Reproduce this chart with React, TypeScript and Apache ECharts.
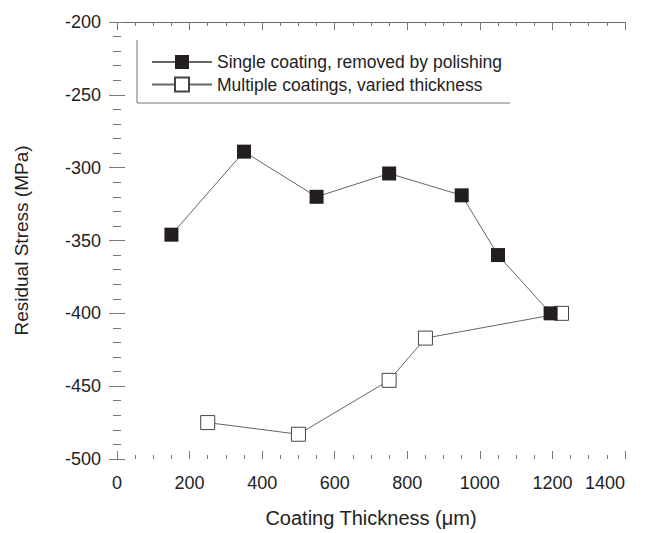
import React, { useEffect, useRef } from "react";
import * as echarts from "echarts";

// Coating thickness (µm) and residual stress (MPa)
const singleX = [150, 350, 550, 750, 950, 1050, 1195];
const singleY = [-346, -289, -320, -304, -319, -360, -400];
const multiX = [250, 500, 750, 850, 1225];
const multiY = [-475, -483, -446, -417, -400];

const seriesNames = [
  "Single coating, removed by polishing",
  "Multiple coatings, varied thickness",
];

const xTitle = "Coating Thickness (μm)";
const yTitle = "Residual Stress (MPa)";

const FONT = "'Liberation Sans', Arial, Helvetica, sans-serif";
const INK = "#222";
const TICK = "#777";

const pairs = (xs: number[], ys: number[]) => xs.map((x, i) => [x, ys[i]]);

export default function App() {
  const ref = useRef<HTMLDivElement>(null);

  useEffect(() => {
    if (!ref.current) return;
    const chart = echarts.init(ref.current, undefined, { renderer: "svg" });

    const hiddenLine = { show: false };
    const tickStyle = { lineStyle: { color: TICK, width: 1 } };
    const plain = (v: number) => String(v);

    chart.setOption({
      animation: false,
      backgroundColor: "#fff",
      textStyle: { fontFamily: FONT },
      grid: { left: 117, right: 24, top: 22, height: 446 },
      legend: {
        orient: "vertical",
        left: 146,
        top: 48,
        itemWidth: 60,
        itemHeight: 17.5,
        itemGap: 4.5,
        data: [seriesNames[0], seriesNames[1]],
        textStyle: { fontSize: 17.5, color: INK, fontFamily: FONT },
      },
      xAxis: [
        {
          type: "value",
          min: 0,
          max: 1400,
          interval: 200,
          position: "bottom",
          name: xTitle,
          nameLocation: "middle",
          nameGap: 49,
          nameTextStyle: { fontSize: 20, color: INK, fontFamily: FONT },
          axisLine: hiddenLine,
          axisTick: { show: true, inside: true, length: 8, ...tickStyle },
          minorTick: { show: true, splitNumber: 4, length: 4, ...tickStyle },
          splitLine: { show: false },
          axisLabel: {
            fontSize: 18,
            color: INK,
            margin: 15,
            fontFamily: FONT,
            alignMaxLabel: "right",
            formatter: plain,
          },
        },
        {
          type: "value",
          min: 0,
          max: 1400,
          interval: 200,
          position: "top",
          axisLine: { show: true, lineStyle: { color: "#666", width: 1 } },
          axisTick: { show: true, inside: true, length: 8, ...tickStyle },
          minorTick: { show: true, splitNumber: 4, length: 4, ...tickStyle },
          splitLine: { show: false },
          axisLabel: { show: false },
        },
      ],
      yAxis: [
        {
          type: "value",
          min: -500,
          max: -200,
          interval: 50,
          position: "left",
          name: yTitle,
          nameLocation: "middle",
          nameGap: 86,
          nameTextStyle: { fontSize: 19, color: INK, fontFamily: FONT },
          axisLine: hiddenLine,
          axisTick: { show: true, inside: true, length: 8, ...tickStyle },
          minorTick: { show: true, splitNumber: 5, length: 4, ...tickStyle },
          splitLine: { show: false },
          axisLabel: { fontSize: 18, color: INK, margin: 16, fontFamily: FONT, formatter: plain },
        },
        {
          type: "value",
          min: -500,
          max: -200,
          interval: 50,
          position: "right",
          axisLine: hiddenLine,
          axisTick: { show: true, inside: true, length: 8, ...tickStyle },
          minorTick: { show: true, splitNumber: 5, length: 4, ...tickStyle },
          splitLine: { show: false },
          axisLabel: { show: false },
        },
      ],
      series: [
        {
          name: seriesNames[1],
          type: "line",
          xAxisIndex: 0,
          yAxisIndex: 0,
          data: pairs(multiX, multiY),
          symbol: "rect",
          symbolSize: 14,
          showSymbol: true,
          lineStyle: { color: "#666", width: 1 },
          itemStyle: { color: "#fff", borderColor: "#444", borderWidth: 1 },
          z: 2,
        },
        {
          name: seriesNames[0],
          type: "line",
          xAxisIndex: 0,
          yAxisIndex: 0,
          data: pairs(singleX, singleY),
          symbol: "rect",
          symbolSize: 14,
          showSymbol: true,
          lineStyle: { color: "#666", width: 1 },
          itemStyle: { color: "#231f20", borderColor: "#231f20", borderWidth: 0 },
          z: 3,
        },
      ],
      graphic: [
        {
          type: "line",
          shape: { x1: 137, y1: 40, x2: 137, y2: 103 },
          style: { stroke: "#777", lineWidth: 1 },
        },
        {
          type: "line",
          shape: { x1: 137, y1: 103, x2: 510, y2: 103 },
          style: { stroke: "#777", lineWidth: 1 },
        },
      ],
    });

    return () => chart.dispose();
  }, []);

  return (
    <div
      ref={ref}
      style={{ position: "fixed", left: 0, top: 0, width: 649, height: 533 }}
    />
  );
}
